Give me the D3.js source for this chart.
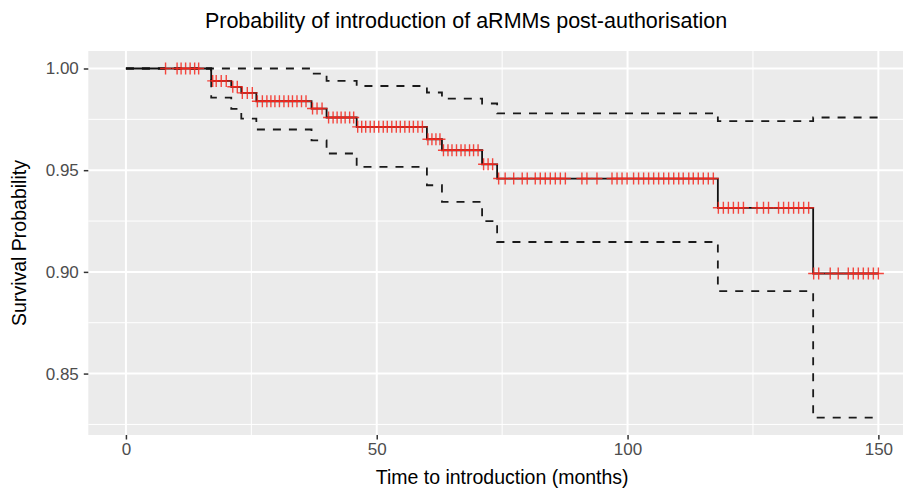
<!DOCTYPE html>
<html>
<head>
<meta charset="utf-8">
<script src="https://cdn.jsdelivr.net/npm/d3@7"></script>
<style>
  html, body { margin: 0; padding: 0; background: #fff; }
  svg { display: block; font-family: 'Liberation Sans', Arial, sans-serif; }
</style>
</head>
<body>
<svg id="chart"></svg>
<script>
// Kaplan-Meier estimate, step times (months) and survival
const kmTimes = [0, 17, 21, 23, 26, 37, 40, 46, 60, 63, 71, 74, 118, 137];
const kmSurv = [1, 0.9939, 0.9910, 0.9880, 0.9839, 0.9803, 0.9759, 0.9713, 0.9652, 0.9598, 0.9529, 0.9459, 0.9315, 0.8992];
// 95% confidence band at the same steps
const upperCI = [1, 1, 1, 1, 1, 0.9975, 0.9939, 0.9914, 0.9882, 0.9852, 0.9828, 0.9779, 0.9741, 0.9759];
const lowerCI = [1, 0.9857, 0.9801, 0.9754, 0.9700, 0.9647, 0.9582, 0.9516, 0.9426, 0.9344, 0.9250, 0.9147, 0.8905, 0.8283];
const endTime = 150;

// censored observations (months)
const censorTimes = [
  7.9, 10.2, 11.0, 11.9, 12.8, 13.7, 14.5,
  17.3, 18.0, 19.0, 20.0,
  21.3, 22.2,
  23.2, 24.2, 25.2,
  26.2, 27.2, 28.1, 28.9, 29.7, 30.6, 31.5, 32.4, 33.2, 34.1, 35.0, 35.9,
  37.2, 38.1, 39.1,
  40.4, 41.3, 42.1, 42.9, 43.7, 44.6, 45.4,
  46.2, 47.0, 47.8, 48.7, 49.5, 50.4, 51.3, 52.1, 53.0, 53.9, 54.7, 55.6, 56.5, 57.3, 58.2, 59.1,
  60.2, 61.0, 61.8, 62.6,
  63.3, 64.2, 65.0, 65.9, 66.8, 67.6, 68.5, 69.3, 70.2,
  71.3, 72.2, 73.1,
  74.3, 75.6, 77.3, 79.0, 80.0, 81.6, 82.6, 83.6, 84.6, 85.6, 86.6, 87.6,
  90.9, 91.9, 93.9, 96.9, 97.9, 98.9, 99.9, 101.2, 102.2, 103.2, 104.2, 105.2,
  106.2, 107.2, 108.2, 109.2, 110.2, 111.1, 112.2, 113.1, 114.1, 115.1, 116.1, 117.1,
  118.1, 119.1, 120.1, 121.1, 122.1, 123.1, 125.8, 127.1, 128.1,
  130.1, 131.1, 132.1, 133.1, 134.1, 135.1, 136.1,
  137.1, 138.1, 140.4, 142.0, 144.0, 145.0, 146.0, 147.0, 148.0, 149.0, 150.0
];

const xTicks = [0, 50, 100, 150];
const xMinor = [25, 75, 125];
const yTicks = [0.85, 0.90, 0.95, 1.00];
const yMinor = [0.825, 0.875, 0.925, 0.975];

const titleText = 'Probability of introduction of aRMMs post-authorisation';
const xTitle = 'Time to introduction (months)';
const yTitle = 'Survival Probability';

const width = 903;
const height = 493;
const panelLeft = 88.3;
const panelRight = 916;
const panelTop = 51;
const panelBottom = 435;

const svg = d3.select('#chart').attr('width', width).attr('height', height);

const x = d3.scaleLinear().domain([-7.5, 157.5]).range([panelLeft, panelRight]);
const y = d3.scaleLinear().domain([0.8198, 1.0086]).range([panelBottom, panelTop]);

// panel background
svg.append('rect')
  .attr('x', panelLeft).attr('y', panelTop)
  .attr('width', panelRight - panelLeft).attr('height', panelBottom - panelTop)
  .attr('fill', '#ebebeb');

svg.append('clipPath').attr('id', 'panel-clip')
  .append('rect')
  .attr('x', panelLeft).attr('y', panelTop)
  .attr('width', panelRight - panelLeft).attr('height', panelBottom - panelTop);

const grid = svg.append('g');
grid.selectAll('line.ymin').data(yMinor).join('line')
  .attr('x1', panelLeft).attr('x2', panelRight)
  .attr('y1', d => y(d)).attr('y2', d => y(d))
  .attr('stroke', '#fff').attr('stroke-width', 1);
grid.selectAll('line.xmin').data(xMinor).join('line')
  .attr('x1', d => x(d)).attr('x2', d => x(d))
  .attr('y1', panelTop).attr('y2', panelBottom)
  .attr('stroke', '#fff').attr('stroke-width', 1);
grid.selectAll('line.ymaj').data(yTicks).join('line')
  .attr('x1', panelLeft).attr('x2', panelRight)
  .attr('y1', d => y(d)).attr('y2', d => y(d))
  .attr('stroke', '#fff').attr('stroke-width', 2);
grid.selectAll('line.xmaj').data(xTicks).join('line')
  .attr('x1', d => x(d)).attr('x2', d => x(d))
  .attr('y1', panelTop).attr('y2', panelBottom)
  .attr('stroke', '#fff').attr('stroke-width', 2);

// step curves
function stepPoints(times, values) {
  const pts = times.map((t, i) => [t, values[i]]);
  pts.push([endTime, values[values.length - 1]]);
  return pts;
}
const line = d3.line()
  .x(d => x(d[0]))
  .y(d => y(d[1]))
  .curve(d3.curveStepAfter);

const plot = svg.append('g').attr('clip-path', 'url(#panel-clip)');

[upperCI, lowerCI].forEach(band => {
  plot.append('path')
    .datum(stepPoints(kmTimes, band))
    .attr('d', line)
    .attr('fill', 'none')
    .attr('stroke', '#1a1a1a')
    .attr('stroke-width', 1.8)
    .attr('stroke-dasharray', '8,8');
});

plot.append('path')
  .datum(stepPoints(kmTimes, kmSurv))
  .attr('d', line)
  .attr('fill', 'none')
  .attr('stroke', '#111')
  .attr('stroke-width', 1.8);

// censor marks sit on the curve
function survAt(t) {
  const i = d3.bisectRight(kmTimes, t) - 1;
  return kmSurv[Math.max(0, i)];
}
plot.append('g')
  .selectAll('path')
  .data(censorTimes)
  .join('path')
  .attr('transform', d => `translate(${x(d)},${y(survAt(d))})`)
  .attr('d', 'M-5.5,0H5.5M0,-6V6')
  .attr('fill', 'none')
  .attr('stroke', '#f5281e')
  .attr('stroke-opacity', 0.85)
  .attr('stroke-width', 1.4);

// axes
const xAxis = svg.append('g')
  .attr('transform', `translate(0,${panelBottom})`)
  .call(d3.axisBottom(x).tickValues(xTicks).tickFormat(d3.format('d')).tickSize(4.5).tickPadding(3.5));
const yAxis = svg.append('g')
  .attr('transform', `translate(${panelLeft},0)`)
  .call(d3.axisLeft(y).tickValues(yTicks).tickFormat(d3.format('.2f')).tickSize(4.5).tickPadding(5));
[xAxis, yAxis].forEach(g => {
  g.select('.domain').remove();
  g.selectAll('.tick line').attr('stroke', '#333').attr('stroke-width', 1.5);
  g.selectAll('.tick text')
    .attr('fill', '#4d4d4d')
    .style('font-size', '17px')
    .style('font-family', "'Liberation Sans', Arial, sans-serif");
});

// titles
svg.append('text')
  .attr('x', 466).attr('y', 28)
  .attr('text-anchor', 'middle')
  .style('font-size', '21.5px')
  .attr('fill', '#000')
  .text(titleText);

svg.append('text')
  .attr('x', (panelLeft + panelRight) / 2).attr('y', 484)
  .attr('text-anchor', 'middle')
  .style('font-size', '19.5px')
  .attr('fill', '#000')
  .text(xTitle);

svg.append('text')
  .attr('transform', `translate(26,${(panelTop + panelBottom) / 2}) rotate(-90)`)
  .attr('text-anchor', 'middle')
  .style('font-size', '19.5px')
  .attr('fill', '#000')
  .text(yTitle);
</script>
</body>
</html>
